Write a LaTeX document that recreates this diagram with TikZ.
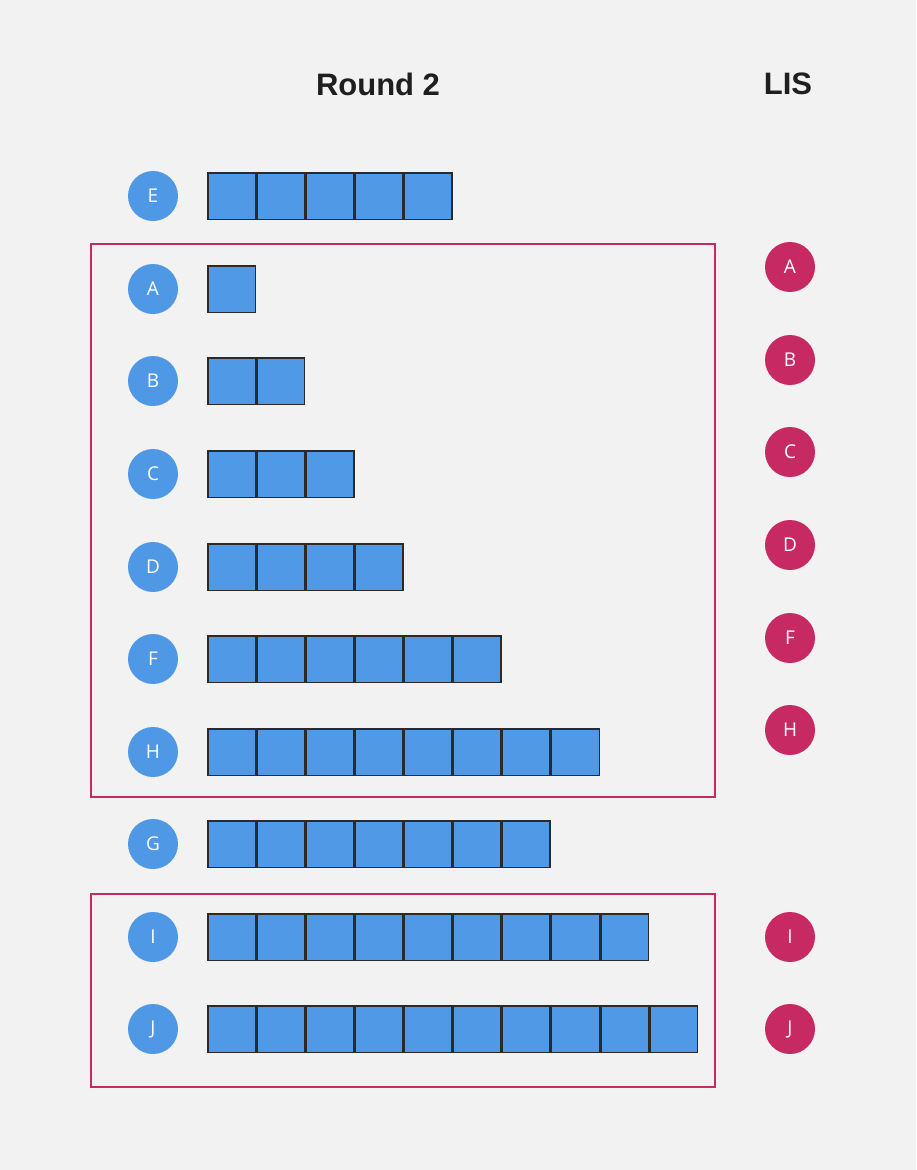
\documentclass[tikz,border=0pt]{standalone}
\usepackage{fontspec}
\setmainfont{Open Sans}
\newfontfamily\headfont{Liberation Sans}
\usetikzlibrary{positioning}

\definecolor{pagegray}{HTML}{F2F2F2}
\definecolor{dotblue}{HTML}{4F98E6}
\definecolor{cellblue}{HTML}{5099E6}
\definecolor{cellline}{HTML}{2A2A2A}
\definecolor{lisred}{HTML}{C72A63}

\begin{document}
\begin{tikzpicture}[
  x=1pt, y=-1pt,
  % Dots for the sequences
  bluedot/.style={circle, fill=dotblue, minimum size=50pt, inner sep=0pt,
                  text=white, font=\fontsize{19}{22}\selectfont},
  reddot/.style={bluedot, fill=lisred},
  % Bar cells
  cell/.style={draw=cellline, fill=cellblue, line width=1.5pt,
               minimum width=47.6pt, minimum height=46.5pt, inner sep=0pt},
  lisbox/.style={draw=lisred, line width=1.8pt},
  headline/.style={font=\headfont\bfseries\fontsize{31}{36}\selectfont, text=black!88}
]

  % Page background
  \fill[pagegray] (0,0) rectangle (916,1170);

  % Headlines
  \node[headline] (round) at (378,84) {Round 2};
  \node[headline] (lis) at (788,84) {LIS};

  % Rows: letter / y / number of cells
  \foreach \name/\ypos/\len in {E/196/5, A/289/1, B/381/2, C/474/3, D/567/4,
                                F/659/6, H/752/8, G/844/7, I/937/9, J/1029/10} {
    \node[bluedot] (r\name) at (153,\ypos) {\name};
    \node[cell, right=29pt of r\name] (r\name-1) {};
    \ifnum\len>1
      \foreach \k [remember=\k as \prev (initially 1)] in {2,...,\len}
        \node[cell, right=0pt of r\name-\prev] (r\name-\k) {};
    \fi
  }

  % Groups that form the LIS
  \draw[lisbox] (91,244) rectangle (715,797);
  \draw[lisbox] (91,894) rectangle (715,1087);

  % LIS column
  \foreach \name/\ypos in {A/267, B/360, C/452, D/545, F/638, H/730, I/937, J/1029}
    \node[reddot] (l\name) at (790,\ypos) {\name};

\end{tikzpicture}
\end{document}
